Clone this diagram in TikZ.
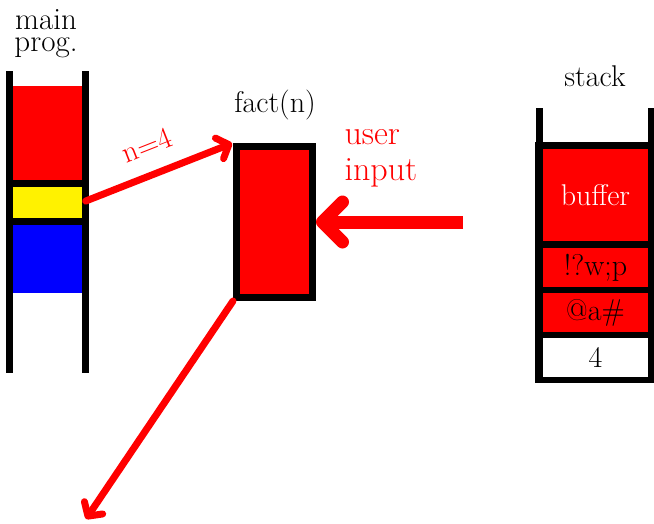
\documentclass[tikz,border=0pt]{standalone}
\usetikzlibrary{arrows.meta}
\begin{document}
\begin{tikzpicture}[x=1pt,y=-1pt,
  font=\fontsize{30}{30}\selectfont,
  bar/.style={line width=7pt},
  cell/.style={inner sep=0pt, outer sep=0pt, minimum width=#1},
  cell/.default=105pt,
  redarrow/.style={draw=red, line width=7pt, line cap=round,
    -{Straight Barb[length=10pt, width=22pt, round]}},
  bigarrow/.style={draw=red, line width=13pt,
    -{Straight Barb[length=20pt, width=40pt, round]}}]
\useasboundingbox (0,0) rectangle (654,523);

% main program stack
\fill (13,180) rectangle (82,225);
\node[cell=69pt, fill=red, minimum height=94pt] (mred) at (47.5,133) {};
\node[cell=69pt, fill=yellow, minimum height=31pt] (myel) at (47.5,202.5) {};
\node[cell=69pt, fill=blue, minimum height=68pt] (mblue) at (47.5,259) {};
\draw[bar] (9.5,71) -- (9.5,373);
\draw[bar] (85.5,71) -- (85.5,373);
\node[align=center, font=\fontsize{31}{22}\selectfont, inner sep=0pt] (mainlbl) at (46,34) {main\\prog.};

% fact(n)
\node[draw, line width=7pt, fill=red, minimum width=76pt, minimum height=151pt, inner sep=0pt] (fact) at (274.5,222) {};
\node (factlbl) at (275,105) {fact(n)};

% stack
\fill (535,142) rectangle (654,383);
\draw[bar] (539,108) -- (539,383);
\draw[bar] (651,108) -- (651,383);
\node[cell, fill=red, text=white, minimum height=92pt] (buf) at (595.5,195) {buffer};
\node[cell, fill=red, minimum height=39pt] (s1) at (595.5,267.5) {!?w;p};
\node[cell, fill=red, minimum height=39pt] (s2) at (595.5,312.5) {@a\#};
\node[cell, fill=white, minimum height=39pt] (s3) at (595.5,357.5) {4};
\node (stacklbl) at (595,76) {stack};

% connectors
\draw[redarrow, shorten <=4pt, shorten >=1pt] (myel.east) -- node[pos=0.5, sloped, above=16pt, text=red, inner sep=0pt] (nlbl) {n=4} (fact.north west);
\coordinate (down) at (86,519);
\draw[redarrow] (fact.south west) -- (down);
\coordinate (uin) at (463,222);
\draw[bigarrow] (uin) -- (fact.east);
\node[anchor=west, align=left, text=red, font=\fontsize{34}{36}\selectfont] (ulbl) at (341,158) {user\\input};
\end{tikzpicture}
\end{document}
